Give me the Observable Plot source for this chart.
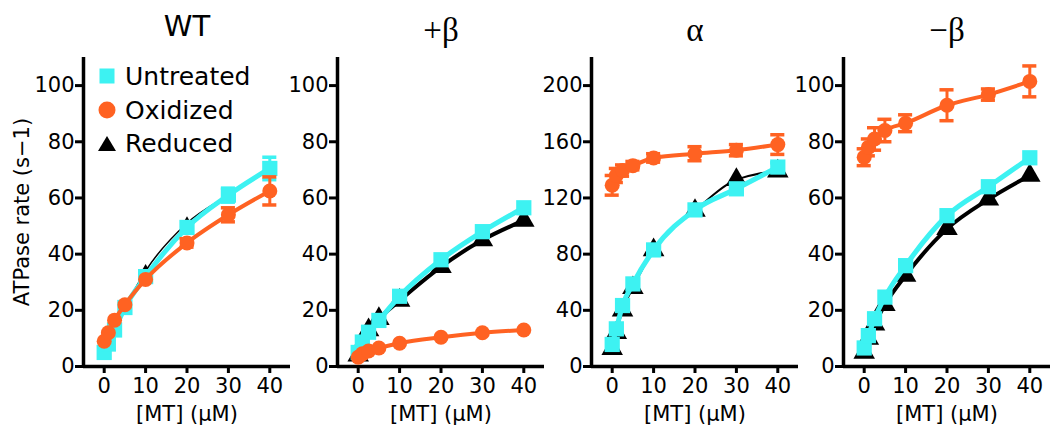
<!DOCTYPE html>
<html><head><meta charset="utf-8">
<script src="https://cdn.jsdelivr.net/npm/d3@7"></script>
<script src="https://cdn.jsdelivr.net/npm/@observablehq/plot@0.6"></script>
<style>
html,body{margin:0;padding:0;background:#fff;overflow:hidden;}
#wrap{position:relative;width:1050px;height:432px;overflow:hidden;font-family:"DejaVu Sans",sans-serif;}
.panel{position:absolute;top:0;width:300px;height:432px;}
.legend{position:absolute;left:0;top:0;font-size:25px;color:#000;}
.legend .row{position:absolute;left:98px;height:30px;display:flex;align-items:center;white-space:nowrap;}
.legend svg{margin-right:9px;}
</style></head><body><div id="wrap"></div>
<script>
// ---- data ----
const mt = [0, 1, 2.5, 5, 10, 20, 30, 40];
const panelTitles = ["WT", "+β", "α", "−β"];
const seriesNames = ["Untreated", "Oxidized", "Reduced"];
const xTickLabels = [0, 10, 20, 30, 40];
const yTicks100 = [0, 20, 40, 60, 80, 100];
const yTicks200 = [0, 40, 80, 120, 160, 200];

const wtUntreated = [5, 8, 13, 21, 32, 49.5, 61, 70.5];
const wtUntreatedErr = [0, 0, 0, 0, 0, 0, 2.5, 4];
const wtOxidized = [9, 12, 16.5, 22, 31, 44, 54, 62.5];
const wtOxidizedErr = [0, 0, 0, 0, 0, 1.5, 2.5, 5];
const wtReduced = [4, 7, 14, 21, 34, 51, 61, 70];

const pbUntreated = [5, 8.7, 12.2, 16.4, 25, 38, 48, 56.5];
const pbUntreatedErr = [0, 0, 0, 0, 0, 0, 0, 0];
const pbOxidized = [3.3, 4.5, 5.5, 6.6, 8.3, 10.4, 12, 13];
const pbOxidizedErr = [0, 0, 0, 0, 0, 0, 0, 0];
const pbReduced = [4, 8, 13, 17, 23.5, 35.5, 45, 52];

const alUntreated = [15.7, 26.8, 43.4, 58.8, 83, 111.5, 126.5, 142];
const alUntreatedErr = [0, 0, 0, 0, 0, 0, 0, 3];
const alOxidized = [129, 136, 139.5, 143, 148.5, 151.5, 154, 158];
const alOxidizedErr = [7, 5, 4, 3, 3, 5, 4, 7];
const alReduced = [12.6, 24, 40, 56, 83, 111, 133, 139];

const mbUntreated = [6.6, 11, 17, 24.7, 35.9, 53.7, 64, 74.3];
const mbUntreatedErr = [0, 0, 0, 0, 0, 0, 0, 0];
const mbOxidized = [74.5, 78, 81, 84, 86.6, 93, 96.8, 101.5];
const mbOxidizedErr = [3, 3, 4, 4, 3, 5.5, 2, 5.5];
const mbReduced = [5, 10, 15, 22, 32.4, 49, 59.5, 68];

// ---- style ----
const CYAN = "#3df2f2", ORANGE = "#ff6222", BLACK = "#000";
const FONT = "'DejaVu Sans', sans-serif";
const SERIF = "'Liberation Serif', 'DejaVu Serif', serif";

function rows(vals, errs) {
  return mt.map((x, i) => ({x, y: vals[i], e: errs ? errs[i] : 0}));
}

function errMarks(data, color) {
  const d = data.filter(r => r.e > 0);
  return [
    Plot.ruleX(d, {x: "x", y1: r => r.y - r.e, y2: r => r.y + r.e, stroke: color, strokeWidth: 3}),
    Plot.ruleY(d, {y: r => r.y + r.e, x1: r => r.x - 1.7, x2: r => r.x + 1.7, stroke: color, strokeWidth: 3.5}),
    Plot.ruleY(d, {y: r => r.y - r.e, x1: r => r.x - 1.7, x2: r => r.x + 1.7, stroke: color, strokeWidth: 3.5})
  ];
}

function makePanel(cfg) {
  const U = rows(cfg.u, cfg.ue), O = rows(cfg.o, cfg.oe), R = rows(cfg.r);
  const marks = [
    Plot.ruleY([0], {stroke: BLACK, strokeWidth: 3.5}),
    Plot.ruleX([-5], {stroke: BLACK, strokeWidth: 3.5}),
    Plot.axisX({ticks: xTickLabels, tickSize: 7, tickPadding: 5, strokeWidth: 3, fontSize: 21, label: null, fontFamily: FONT}),
    Plot.axisY({ticks: cfg.yTicks, tickSize: 8, tickPadding: 1, strokeWidth: 3, fontSize: 21, label: null, fontFamily: FONT}),
    // reduced (black)
    Plot.line(R, {x: "x", y: "y", stroke: BLACK, strokeWidth: cfg.blackW, curve: "monotone-x"}),
    Plot.dot(R, {x: "x", y: "y", symbol: "triangle", fill: BLACK, r: cfg.triR}),
    // untreated (cyan)
    ...errMarks(U, CYAN),
    Plot.line(U, {x: "x", y: "y", stroke: CYAN, strokeWidth: 5, curve: "monotone-x"}),
    Plot.dot(U, {x: "x", y: "y", symbol: "square", fill: CYAN, r: 8.6}),
    // oxidized (orange)
    ...errMarks(O, ORANGE),
    Plot.line(O, {x: "x", y: "y", stroke: ORANGE, strokeWidth: 4, curve: "monotone-x"}),
    Plot.dot(O, {x: "x", y: "y", symbol: "circle", fill: ORANGE, r: 7.5}),
    // title & x label
    Plot.text([cfg.title], {frameAnchor: "top", dy: cfg.titleDy, fontSize: cfg.titleSize, fontFamily: cfg.titleFont, fill: BLACK}),
    Plot.text(["[MT] (μM)"], {frameAnchor: "bottom", dy: 54, fontSize: 21, fontFamily: FONT, fill: BLACK})
  ];
  if (cfg.ylabel) {
    marks.push(Plot.text([cfg.ylabel], {frameAnchor: "left", textAnchor: "middle", dx: -61, rotate: -90, fontSize: 21, fontFamily: FONT, fill: BLACK}));
  }
  return Plot.plot({
    width: 300, height: 432,
    marginLeft: 83, marginRight: 10, marginTop: 57, marginBottom: 66,
    x: {domain: [-5, 45]},
    y: {domain: [0, cfg.yMax]},
    style: {background: "transparent", overflow: "visible", color: "black", fontFamily: FONT},
    marks
  });
}

const configs = [
  {title: panelTitles[0], titleFont: FONT, titleSize: 29, titleDy: -42, u: wtUntreated, ue: wtUntreatedErr, o: wtOxidized, oe: wtOxidizedErr, r: wtReduced, yMax: 110, yTicks: yTicks100, blackW: 1.5, triR: 4.5, ylabel: "ATPase rate (s−1)"},
  {title: panelTitles[1], titleFont: SERIF, titleSize: 33, titleDy: -40, u: pbUntreated, ue: pbUntreatedErr, o: pbOxidized, oe: pbOxidizedErr, r: pbReduced, yMax: 110, yTicks: yTicks100, blackW: 4, triR: 8},
  {title: panelTitles[2], titleFont: SERIF, titleSize: 33, titleDy: -40, u: alUntreated, ue: alUntreatedErr, o: alOxidized, oe: alOxidizedErr, r: alReduced, yMax: 220, yTicks: yTicks200, blackW: 2, triR: 8},
  {title: panelTitles[3], titleFont: SERIF, titleSize: 33, titleDy: -40, u: mbUntreated, ue: mbUntreatedErr, o: mbOxidized, oe: mbOxidizedErr, r: mbReduced, yMax: 110, yTicks: yTicks100, blackW: 4, triR: 8}
];
const lefts = [0, 254, 508, 760];

const wrap = document.getElementById("wrap");
configs.forEach((cfg, i) => {
  const div = document.createElement("div");
  div.className = "panel";
  div.style.left = lefts[i] + "px";
  div.appendChild(makePanel(cfg));
  wrap.appendChild(div);
});

// legend (panel 1)
const legendShapes = [
  `<svg width="18" height="18"><rect x="1.5" y="1.5" width="15" height="15" fill="${CYAN}"/></svg>`,
  `<svg width="18" height="18"><circle cx="9" cy="9" r="8.5" fill="${ORANGE}"/></svg>`,
  `<svg width="18" height="18"><path d="M9,2 L18,17 L0,17 Z" fill="${BLACK}"/></svg>`
];
const legendTops = [61, 95, 128];
const leg = document.createElement("div");
leg.className = "legend";
seriesNames.forEach((name, i) => {
  const row = document.createElement("div");
  row.className = "row";
  row.style.top = legendTops[i] + "px";
  row.innerHTML = legendShapes[i] + `<span>${name}</span>`;
  leg.appendChild(row);
});
wrap.appendChild(leg);
</script>
</body></html>
